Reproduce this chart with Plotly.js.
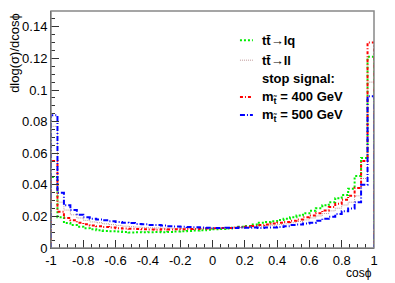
<!DOCTYPE html>
<html><head><meta charset="utf-8">
<script src="https://cdn.plot.ly/plotly-3.0.1.min.js"></script>
<style>html,body{margin:0;padding:0;background:#fff}#chart{width:395px;height:283px}</style>
</head><body><div id="chart"></div>
<script>
// Bin low edges: 50 bins of width 0.04 from -1 to 1
const binEdges = [-1.00,-0.96,-0.92,-0.88,-0.84,-0.80,-0.76,-0.72,-0.68,-0.64,-0.60,-0.56,-0.52,-0.48,-0.44,-0.40,-0.36,-0.32,-0.28,-0.24,-0.20,-0.16,-0.12,-0.08,-0.04,0.00,0.04,0.08,0.12,0.16,0.20,0.24,0.28,0.32,0.36,0.40,0.44,0.48,0.52,0.56,0.60,0.64,0.68,0.72,0.76,0.80,0.84,0.88,0.92,0.96,1.00];

const ttlq = [0.045,0.0195,0.0158,0.0145,0.0135,0.0125,0.0118,0.0112,0.0108,0.0106,0.0104,0.0102,0.0098,0.0100,0.0099,0.0100,0.0101,0.0100,0.0102,0.0105,0.0106,0.0108,0.0110,0.0112,0.0115,0.0118,0.0120,0.0124,0.0128,0.0135,0.0140,0.0148,0.0160,0.0165,0.0170,0.0178,0.0185,0.0195,0.0205,0.0220,0.0235,0.0252,0.0270,0.0290,0.0315,0.0335,0.0375,0.0455,0.0570,0.121];
const ttll = [0.077,0.029,0.024,0.021,0.019,0.0175,0.0165,0.0160,0.0153,0.0148,0.0143,0.0138,0.0135,0.0132,0.0130,0.0128,0.0127,0.0126,0.0125,0.0124,0.0124,0.0124,0.0124,0.0123,0.0124,0.0124,0.0125,0.0126,0.0127,0.0130,0.0132,0.0134,0.0137,0.0140,0.0144,0.0148,0.0153,0.0160,0.0168,0.0178,0.0190,0.0203,0.0218,0.0235,0.0252,0.0272,0.0290,0.0330,0.0440,0.105];
const stop400 = [0.055,0.023,0.019,0.0175,0.016,0.015,0.0143,0.0138,0.0133,0.0130,0.0125,0.0123,0.0122,0.0120,0.0119,0.0117,0.0116,0.0118,0.0117,0.0119,0.0118,0.0120,0.0121,0.0123,0.0124,0.0125,0.0126,0.0127,0.0130,0.0132,0.0135,0.0140,0.0145,0.0148,0.0155,0.0160,0.0165,0.0172,0.0180,0.0195,0.0205,0.0220,0.0238,0.0260,0.0280,0.0305,0.0330,0.0380,0.0550,0.130];
const stop500 = [0.084,0.035,0.027,0.024,0.021,0.0195,0.0185,0.0180,0.0175,0.0170,0.0165,0.0160,0.0158,0.0152,0.0150,0.0146,0.0145,0.0142,0.0138,0.0136,0.0134,0.0133,0.0132,0.0130,0.0128,0.0127,0.0126,0.0128,0.0127,0.0130,0.0128,0.0130,0.0127,0.0130,0.0130,0.0133,0.0138,0.0145,0.0148,0.0155,0.0160,0.0172,0.0185,0.0198,0.0215,0.0232,0.0250,0.0290,0.0400,0.096];

const xTickVals = [-1,-0.8,-0.6,-0.4,-0.2,0,0.2,0.4,0.6,0.8,1];
const xTickText = ["-1","-0.8","-0.6","-0.4","-0.2","0","0.2","0.4","0.6","0.8","1"];
const yTickVals = [0,0.02,0.04,0.06,0.08,0.1,0.12,0.14];
const yTickText = ["0","0.02","0.04","0.06","0.08","0.1","0.12","0.14"];

const legendLabels = ["tt̄→lq","tt̄→ll","stop signal:","m<sub>t̃</sub> = 400 GeV","m<sub>t̃</sub> = 500 GeV"];

function stepTrace(vals, color, dash, width){
  const xs = [binEdges[0]], ys = [0];
  for (let i = 0; i < vals.length; i++){ xs.push(binEdges[i]); ys.push(vals[i]); }
  xs.push(binEdges[binEdges.length-1]); ys.push(vals[vals.length-1]);
  xs.push(binEdges[binEdges.length-1]); ys.push(0);
  return {x: xs, y: ys, type:'scatter', mode:'lines', line:{shape:'hv', color: color, dash: dash, width: width}, hoverinfo:'skip', showlegend:false};
}

const series = [
  {v: ttlq, c:'#00ee00', d:'2px,2px', w:2},
  {v: ttll, c:'rgb(190,150,150)', d:'1px,1px', w:1},
  {v: stop400, c:'#ff0000', d:'3px,2px,1px,2px', w:2},
  {v: stop500, c:'#0000ff', d:'5px,2px,1px,2px', w:2}
];
const traces = series.map(s => stepTrace(s.v, s.c, s.d, s.w));

// legend (manual)
const legRows = [0.877, 0.7925, 0.7167, 0.6368, 0.561];
const legSeries = [series[0], series[1], null, series[2], series[3]];
const shapes = [{type:'rect', xref:'paper', yref:'paper', x0:0, x1:1, y0:0, y1:1, line:{color:'#888', width:1.5}}];
const annotations = [];
legendLabels.forEach((t, i) => {
  const s = legSeries[i];
  if (s) shapes.push({type:'line', xref:'paper', yref:'paper', x0:0.585, x1:0.625, y0:legRows[i], y1:legRows[i], line:{color:s.c, dash:s.d, width:s.w}});
  annotations.push({xref:'paper', yref:'paper', x:0.648, y:legRows[i], xanchor:'left', yanchor:'middle', text:'<b>'+t+'</b>', showarrow:false, font:{family:'Liberation Sans, Arial', size:13, color:'#000'}});
});
annotations.push({xref:'paper', yref:'paper', x:-0.115, y:1.0, xanchor:'center', yanchor:'top', textangle:-90, text:'dlog(σ)/dcosϕ', showarrow:false, font:{family:'Liberation Sans, Arial', size:13, color:'#000'}});
annotations.push({xref:'paper', yref:'paper', x:1.0, y:-0.104, xanchor:'right', yanchor:'middle', text:'cosϕ', showarrow:false, font:{family:'Liberation Sans, Arial', size:12, color:'#000'}});

const layout = {
  width:395, height:283,
  margin:{l:51, r:21, t:11, b:35},
  paper_bgcolor:'#fff', plot_bgcolor:'#fff',
  showlegend:false,
  font:{family:'Liberation Sans, Arial', size:13, color:'#000'},
  xaxis:{range:[-1,1], tickmode:'array', tickvals:xTickVals, ticktext:xTickText, ticks:'inside', ticklen:8, tickcolor:'#333',
         minor:{tickmode:'linear', tick0:-1, dtick:0.05, ticks:'inside', ticklen:4, tickcolor:'#333'},
         showgrid:false, zeroline:false, showline:true, linecolor:'#333', linewidth:1, tickfont:{size:13}},
  yaxis:{range:[0,0.15], tickmode:'array', tickvals:yTickVals, ticktext:yTickText, ticks:'inside', ticklen:8, tickcolor:'#333',
         minor:{tickmode:'linear', tick0:0, dtick:0.005, ticks:'inside', ticklen:4, tickcolor:'#333'},
         showgrid:false, zeroline:false, showline:true, linecolor:'#333', linewidth:1, tickfont:{size:13}},
  shapes: shapes,
  annotations: annotations
};
Plotly.newPlot('chart', traces, layout, {staticPlot:true, displayModeBar:false});
</script></body></html>
